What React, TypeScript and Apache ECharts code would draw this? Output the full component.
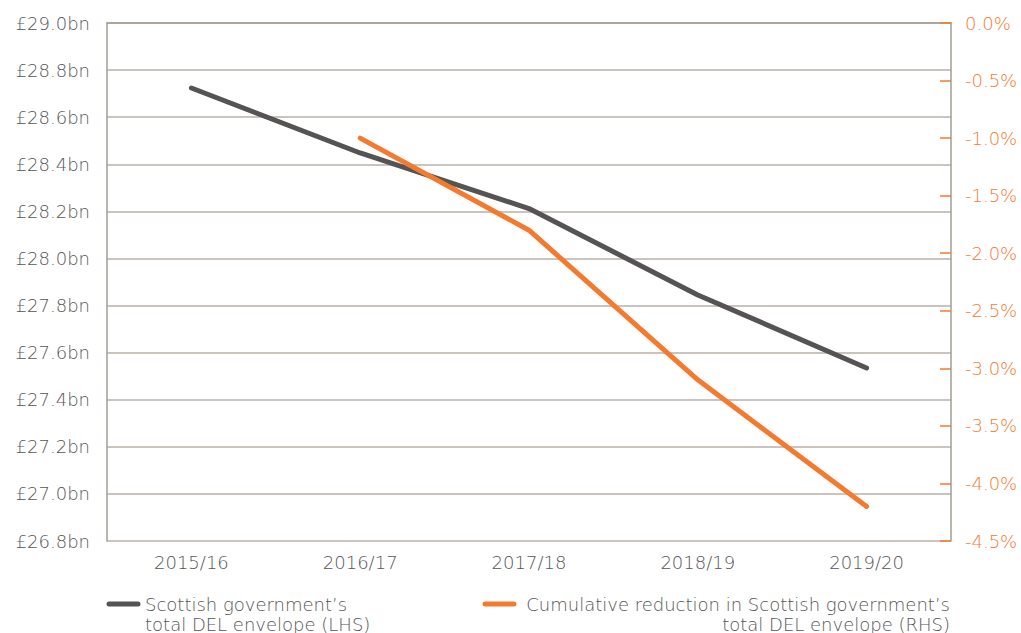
import React, { useEffect, useRef } from "react";
import * as echarts from "echarts";

const categories = ["2015/16", "2016/17", "2017/18", "2018/19", "2019/20"];
const delEnvelope = [28.724, 28.448, 28.212, 27.845, 27.535];
const cumulativeReduction = [null, -1.0, -1.8, -3.1, -4.2];
const legendLHS = "Scottish government\u2019s\ntotal DEL envelope (LHS)";
const legendRHS = "Cumulative reduction in Scottish government\u2019s\ntotal DEL envelope (RHS)";

const GREY = "#555353";
const ORANGE = "#F47A30";
const AXIS = "#a59d96";
const GRID = "#b8b1aa";
const TEXT = "#555555";
const FONT = "DejaVu Sans";

export default function App() {
  const ref = useRef<HTMLDivElement>(null);
  useEffect(() => {
    const chart = echarts.init(ref.current!, null, { renderer: "svg" });
    chart.setOption({
      animation: false,
      grid: { left: 107, right: 70, top: 23, bottom: 92 },
      xAxis: {
        type: "category",
        data: categories,
        boundaryGap: true,
        axisLine: { lineStyle: { color: AXIS, width: 1.5 } },
        axisTick: { inside: true, length: 10, lineStyle: { color: AXIS, width: 1.5 } },
        axisLabel: { color: TEXT, fontFamily: FONT, fontWeight: 300, fontSize: 18, margin: 12 },
      },
      yAxis: [
        {
          type: "value",
          min: 26.8,
          max: 29.0,
          interval: 0.2,
          axisLine: { show: true, lineStyle: { color: AXIS, width: 1.5 } },
          axisTick: { show: false },
          splitLine: { lineStyle: { color: GRID, width: 1.5 } },
          axisLabel: {
            color: TEXT,
            fontFamily: FONT,
            fontWeight: 300,
            fontSize: 18,
            margin: 17,
            formatter: (v: number) => "\u00a3" + v.toFixed(1) + "bn",
          },
        },
        {
          type: "value",
          min: -4.5,
          max: 0,
          interval: 0.5,
          position: "right",
          axisLine: { show: true, lineStyle: { color: AXIS, width: 1.5 } },
          axisTick: { show: true, inside: true, length: 11, lineStyle: { color: ORANGE, width: 1.5 } },
          splitLine: { show: false },
          axisLabel: {
            color: ORANGE,
            fontFamily: FONT,
            fontWeight: 300,
            fontSize: 18,
            margin: 14,
            formatter: (v: number) => v.toFixed(1) + "%",
          },
        },
      ],
      series: [
        {
          type: "line",
          name: "LHS",
          data: delEnvelope,
          yAxisIndex: 0,
          symbol: "none",
          lineStyle: { color: GREY, width: 5, cap: "round", join: "round" },
        },
        {
          type: "line",
          name: "RHS",
          data: cumulativeReduction,
          yAxisIndex: 1,
          symbol: "none",
          connectNulls: false,
          lineStyle: { color: ORANGE, width: 5, cap: "round", join: "round" },
        },
      ],
      graphic: [
        {
          type: "line",
          shape: { x1: 109, y1: 604, x2: 138, y2: 604 },
          style: { stroke: GREY, lineWidth: 5, lineCap: "round" },
        },
        {
          type: "text",
          x: 145,
          y: 594,
          style: {
            text: legendLHS,
            fill: TEXT,
            font: `300 18px "${FONT}"`,
            lineHeight: 20,
            align: "left",
            verticalAlign: "top",
          },
        },
        {
          type: "line",
          shape: { x1: 485, y1: 604, x2: 514, y2: 604 },
          style: { stroke: ORANGE, lineWidth: 5, lineCap: "round" },
        },
        {
          type: "text",
          x: 950,
          y: 594,
          style: {
            text: legendRHS,
            fill: TEXT,
            font: `300 18px "${FONT}"`,
            lineHeight: 20,
            align: "right",
            verticalAlign: "top",
          },
        },
      ],
    });
    return () => chart.dispose();
  }, []);
  return (
    <div
      ref={ref}
      style={{ position: "absolute", left: 0, top: 0, width: 1021, height: 633 }}
    />
  );
}
